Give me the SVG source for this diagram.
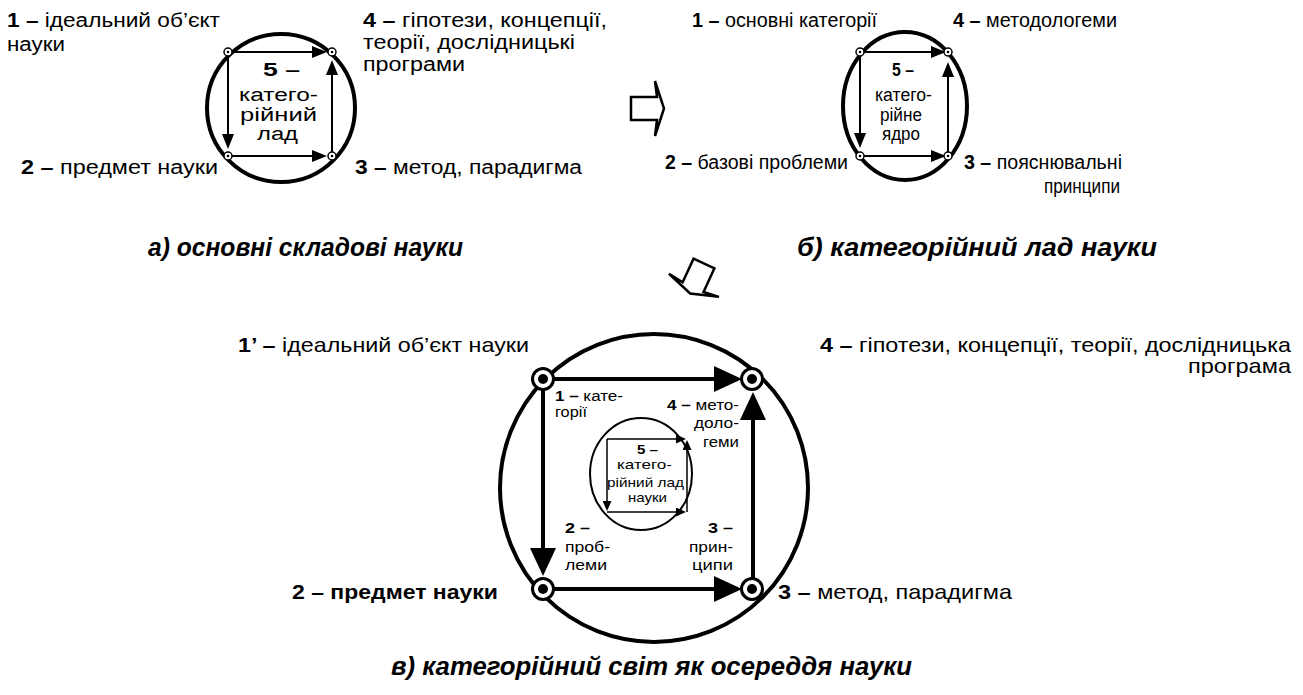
<svg xmlns="http://www.w3.org/2000/svg" width="1303" height="695" viewBox="0 0 1303 695">
<defs>
<style>
text{font-family:"Liberation Sans",Arial,"Noto Sans",sans-serif;fill:#000}
.l20{font-size:20px}
.l21{font-size:21px}
.c18{font-size:18px}
.c17{font-size:17px}
.i15{font-size:15px}
.i14{font-size:14px}
.i13{font-size:13px}
.b{font-weight:bold}
.title{font-size:26px;font-weight:bold;font-style:italic}
.ring{fill:none;stroke:#000}
.nodeS{fill:#fff;stroke:#000;stroke-width:1.5}
.nodeL{fill:#fff;stroke:#000;stroke-width:3}
.edgeS{stroke:#000;stroke-width:2;fill:none;marker-end:url(#ahS)}
.edgeL{stroke:#000;stroke-width:4;fill:none;marker-end:url(#ahL)}
.edgeT{stroke:#000;stroke-width:1.5;fill:none;marker-end:url(#ahT)}
.block{fill:#fff;stroke:#000;stroke-width:2.5;stroke-linejoin:miter}
</style>
<marker id="ahS" markerUnits="userSpaceOnUse" viewBox="0 0 15 12" markerWidth="15" markerHeight="12" refX="1" refY="6" orient="auto"><path d="M0,0 L15,6 L0,12 Z" fill="#000"/></marker>
<marker id="ahL" markerUnits="userSpaceOnUse" viewBox="0 0 28 26" markerWidth="28" markerHeight="26" refX="1" refY="13" orient="auto"><path d="M0,0 L28,13 L0,26 Z" fill="#000"/></marker>
<marker id="ahT" markerUnits="userSpaceOnUse" viewBox="0 0 10 9" markerWidth="10" markerHeight="9" refX="1" refY="4.5" orient="auto"><path d="M0,0 L10,4.5 L0,9 Z" fill="#000"/></marker>
<polygon id="blockArrow" class="block" points="0,-11.5 26,-11.5 24,-27.5 33,0 24,27.5 26,11.5 0,11.5"/>
</defs>

<!-- rings -->
<g id="rings">
<circle class="ring" cx="281" cy="108" r="74" stroke-width="4"/>
<ellipse class="ring" cx="905" cy="106" rx="62" ry="74" stroke-width="4"/>
<circle class="ring" cx="654" cy="488" r="154" stroke-width="4"/>
<ellipse class="ring" cx="641" cy="474" rx="51" ry="56" stroke-width="2"/>
</g>

<g id="connectors">
<!-- a) -->
<path class="edgeS" d="M232,52 H313"/>
<path class="edgeS" d="M228,56 V135"/>
<path class="edgeS" d="M232,156 H313"/>
<path class="edgeS" d="M332,152 V74"/>
<!-- б) -->
<path class="edgeS" d="M864,52 H932"/>
<path class="edgeS" d="M860,56 V134"/>
<path class="edgeS" d="M864,156 H932"/>
<path class="edgeS" d="M948,152 V76"/>
<!-- в) outer -->
<path class="edgeL" d="M554,379 H715"/>
<path class="edgeL" d="M543,390 V549"/>
<path class="edgeL" d="M554,589 H715"/>
<path class="edgeL" d="M753,578 V419"/>
<!-- в) inner -->
<path class="edgeT" d="M607,439 H677"/>
<path class="edgeT" d="M607,439 V502"/>
<path class="edgeT" d="M607,512 H677"/>
<path class="edgeT" d="M687,512 V449"/>
<!-- transitions -->
<use href="#blockArrow" transform="translate(631,108.5)"/>
<use href="#blockArrow" transform="translate(704,263.5) rotate(114.8)"/>
</g>

<!-- a) основні складові науки -->
<g id="a-node1">
<circle class="nodeS" cx="228" cy="52" r="4"/><circle cx="228" cy="52" r="1.3"/>
<text class="l20" x="7" y="27" textLength="213" lengthAdjust="spacingAndGlyphs"><tspan class="b">1 –</tspan> ідеальний об’єкт</text>
<text class="l20" x="7" y="51" textLength="58" lengthAdjust="spacingAndGlyphs">науки</text>
</g>
<g id="a-node4">
<circle class="nodeS" cx="332" cy="52" r="4"/><circle cx="332" cy="52" r="1.3"/>
<text class="l20" x="363" y="27" textLength="244" lengthAdjust="spacingAndGlyphs"><tspan class="b">4 –</tspan> гіпотези, концепції,</text>
<text class="l20" x="363" y="49" textLength="212" lengthAdjust="spacingAndGlyphs">теорії, дослідницькі</text>
<text class="l20" x="363" y="71" textLength="102" lengthAdjust="spacingAndGlyphs">програми</text>
</g>
<g id="a-node2">
<circle class="nodeS" cx="228" cy="156" r="4"/><circle cx="228" cy="156" r="1.3"/>
<text class="l20" x="21" y="174" textLength="197" lengthAdjust="spacingAndGlyphs"><tspan class="b">2 –</tspan> предмет науки</text>
</g>
<g id="a-node3">
<circle class="nodeS" cx="332" cy="156" r="4"/><circle cx="332" cy="156" r="1.3"/>
<text class="l20" x="355" y="174" textLength="227" lengthAdjust="spacingAndGlyphs"><tspan class="b">3 –</tspan> метод, парадигма</text>
</g>
<g id="a-node5">
<text class="c18 b" x="263" y="76" textLength="37" lengthAdjust="spacingAndGlyphs">5 –</text>
<text class="c18" x="239" y="101" textLength="79" lengthAdjust="spacingAndGlyphs">катего-</text>
<text class="c18" x="240" y="121" textLength="77" lengthAdjust="spacingAndGlyphs">рійний</text>
<text class="c18" x="257" y="140" textLength="41" lengthAdjust="spacingAndGlyphs">лад</text>
</g>
<text class="title" x="148" y="256" textLength="315" lengthAdjust="spacingAndGlyphs">а) основні складові науки</text>

<!-- б) категорійний лад науки -->
<g id="b-node1">
<circle class="nodeS" cx="860" cy="52" r="4"/><circle cx="860" cy="52" r="1.3"/>
<text class="l20" x="692" y="27" textLength="185" lengthAdjust="spacingAndGlyphs"><tspan class="b">1 –</tspan> основні категорії</text>
</g>
<g id="b-node4">
<circle class="nodeS" cx="948" cy="52" r="4"/><circle cx="948" cy="52" r="1.3"/>
<text class="l20" x="953" y="27" textLength="164" lengthAdjust="spacingAndGlyphs"><tspan class="b">4 –</tspan> методологеми</text>
</g>
<g id="b-node2">
<circle class="nodeS" cx="860" cy="156" r="4"/><circle cx="860" cy="156" r="1.3"/>
<text class="l20" x="665" y="169" textLength="183" lengthAdjust="spacingAndGlyphs"><tspan class="b">2 –</tspan> базові проблеми</text>
</g>
<g id="b-node3">
<circle class="nodeS" cx="948" cy="156" r="4"/><circle cx="948" cy="156" r="1.3"/>
<text class="l20" x="964" y="169" textLength="158" lengthAdjust="spacingAndGlyphs"><tspan class="b">3 –</tspan> пояснювальні</text>
<text class="l20" x="1044" y="193" textLength="76" lengthAdjust="spacingAndGlyphs">принципи</text>
</g>
<g id="b-node5">
<text class="c18 b" x="892" y="76" textLength="22" lengthAdjust="spacingAndGlyphs">5 –</text>
<text class="c18" x="875" y="101" textLength="57" lengthAdjust="spacingAndGlyphs">катего-</text>
<text class="c18" x="880" y="121" textLength="42" lengthAdjust="spacingAndGlyphs">рійне</text>
<text class="c18" x="882" y="140" textLength="38" lengthAdjust="spacingAndGlyphs">ядро</text>
</g>
<text class="title" x="797" y="256" textLength="360" lengthAdjust="spacingAndGlyphs">б) категорійний лад науки</text>

<!-- в) категорійний світ як осереддя науки -->
<g id="c-node1">
<circle class="nodeL" cx="543" cy="379" r="10.5"/><circle cx="543" cy="379" r="5"/>
<text class="l21" x="238" y="352" textLength="291" lengthAdjust="spacingAndGlyphs"><tspan class="b">1’ –</tspan> ідеальний об’єкт науки</text>
<text class="i14" x="555" y="401" textLength="68" lengthAdjust="spacingAndGlyphs"><tspan class="b">1 –</tspan> кате-</text>
<text class="i14" x="555" y="417" textLength="32" lengthAdjust="spacingAndGlyphs">горії</text>
</g>
<g id="c-node4">
<circle class="nodeL" cx="752" cy="379" r="10.5"/><circle cx="752" cy="379" r="5"/>
<text class="l21" x="820" y="352" textLength="471" lengthAdjust="spacingAndGlyphs"><tspan class="b">4 –</tspan> гіпотези, концепції, теорії, дослідницька</text>
<text class="l21" x="1188" y="373" textLength="103" lengthAdjust="spacingAndGlyphs">програма</text>
<text class="i15" x="667" y="410" textLength="72" lengthAdjust="spacingAndGlyphs"><tspan class="b">4 –</tspan> мето-</text>
<text class="i15" x="694" y="428" textLength="45" lengthAdjust="spacingAndGlyphs">доло-</text>
<text class="i15" x="703" y="447" textLength="36" lengthAdjust="spacingAndGlyphs">геми</text>
</g>
<g id="c-node2">
<circle class="nodeL" cx="543" cy="589" r="10.5"/><circle cx="543" cy="589" r="5"/>
<text class="l21 b" x="292" y="599" textLength="206" lengthAdjust="spacingAndGlyphs">2 – предмет науки</text>
<text class="i15 b" x="565" y="533" textLength="25" lengthAdjust="spacingAndGlyphs">2 –</text>
<text class="i15" x="565" y="552" textLength="45" lengthAdjust="spacingAndGlyphs">проб-</text>
<text class="i15" x="565" y="570" textLength="42" lengthAdjust="spacingAndGlyphs">леми</text>
</g>
<g id="c-node3">
<circle class="nodeL" cx="752" cy="589" r="10.5"/><circle cx="752" cy="589" r="5"/>
<text class="l21" x="778" y="599" textLength="234" lengthAdjust="spacingAndGlyphs"><tspan class="b">3 –</tspan> метод, парадигма</text>
<text class="i15 b" x="708" y="533" textLength="25" lengthAdjust="spacingAndGlyphs">3 –</text>
<text class="i15" x="689" y="552" textLength="44" lengthAdjust="spacingAndGlyphs">прин-</text>
<text class="i15" x="692" y="570" textLength="41" lengthAdjust="spacingAndGlyphs">ципи</text>
</g>
<g id="c-node5">
<text class="i13 b" x="637" y="454" textLength="21" lengthAdjust="spacingAndGlyphs">5 –</text>
<text class="i13" x="617" y="469" textLength="55" lengthAdjust="spacingAndGlyphs">катего-</text>
<text class="i13" x="607" y="487" textLength="77" lengthAdjust="spacingAndGlyphs">рійний лад</text>
<text class="i13" x="628" y="502" textLength="39" lengthAdjust="spacingAndGlyphs">науки</text>
</g>
<text class="title" x="391" y="675" textLength="521" lengthAdjust="spacingAndGlyphs">в) категорійний світ як осереддя науки</text>
</svg>
